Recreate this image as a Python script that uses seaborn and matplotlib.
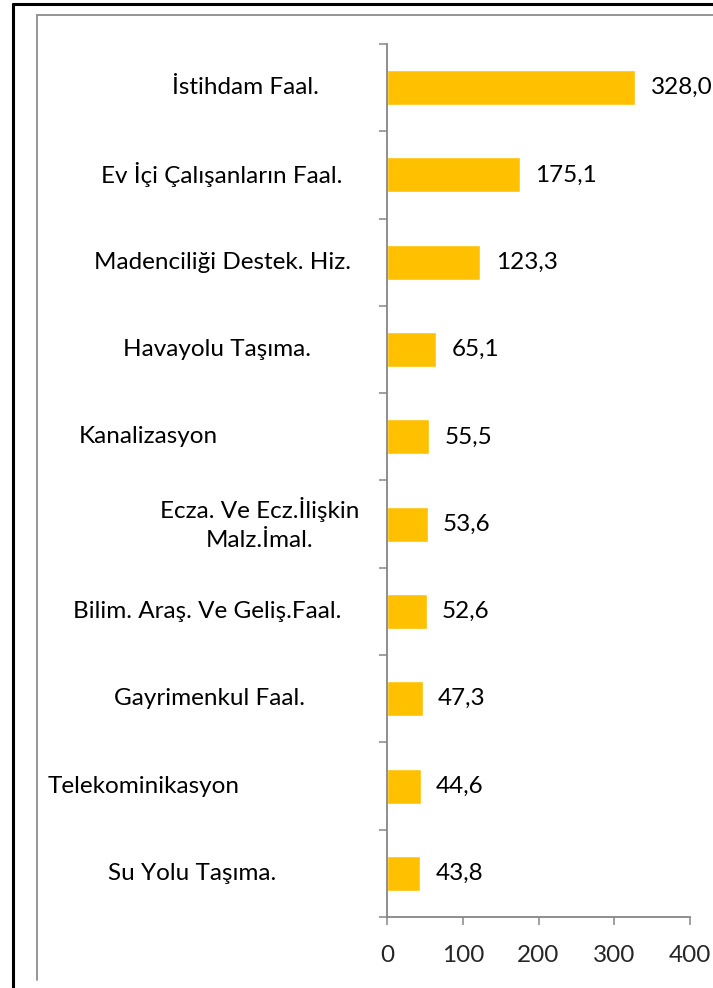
import matplotlib
matplotlib.use("Agg")
import matplotlib.pyplot as plt
import matplotlib.transforms as mtransforms
from matplotlib.lines import Line2D
import seaborn as sns

categories = [
    "İstihdam Faal.",
    "Ev İçi Çalışanların Faal.",
    "Madenciliği Destek. Hiz.",
    "Havayolu Taşıma.",
    "Kanalizasyon",
    "Ecza. Ve Ecz.İlişkin\nMalz.İmal.",
    "Bilim. Araş. Ve Geliş.Faal.",
    "Gayrimenkul Faal.",
    "Telekominikasyon",
    "Su Yolu Taşıma.",
]
values = [328.0, 175.1, 123.3, 65.1, 55.5, 53.6, 52.6, 47.3, 44.6, 43.8]
value_labels = ["328,0", "175,1", "123,3", "65,1", "55,5", "53,6", "52,6", "47,3", "44,6", "43,8"]
x_ticks = [0, 100, 200, 300, 400]

# category label centres (pixels from left), Excel lays them out unevenly
label_px = [245, 222, 222, 217, 148, 260, 207, 210, 144, 192]

W, H = 713, 988
sns.set_style("white")
plt.rcParams["font.family"] = ["Lato", "DejaVu Sans"]
fs = 17.5
axis_gray = "#868686"

fig = plt.figure(figsize=(W / 100, H / 100), dpi=100)
ax = fig.add_axes([387 / W, 1 - 917 / H, (690 - 387) / W, (917 - 44) / H])

sns.barplot(x=values, y=categories, orient="h", color="#FFC000",
            saturation=1, width=0.4, ax=ax)

ax.set_xlim(0, 400)
ax.set_ylim(len(categories) - 0.5, -0.5)
ax.set_xticks(x_ticks)
ax.set_xticklabels([str(t) for t in x_ticks], fontsize=fs)
ax.set_yticks([i - 0.5 for i in range(len(categories) + 1)])
ax.set_yticklabels([])
ax.set_xlabel("")
ax.set_ylabel("")
ax.tick_params(axis="x", bottom=True, direction="out", length=6, width=1.1, color=axis_gray, pad=14)
ax.tick_params(axis="y", left=True, direction="out", length=6, width=1.1, color=axis_gray)
for s in ["top", "right"]:
    ax.spines[s].set_visible(False)
for s in ["left", "bottom"]:
    ax.spines[s].set_color(axis_gray)
    ax.spines[s].set_linewidth(1.3)

ax.bar_label(ax.containers[0], labels=value_labels, padding=11, fontsize=fs, color="black")

trans = mtransforms.blended_transform_factory(fig.transFigure, ax.transData)
for i, (cat, px) in enumerate(zip(categories, label_px)):
    ax.text(px / W, i, cat, transform=trans, ha="center", va="center",
            multialignment="center", fontsize=fs, color="black", linespacing=1.5)

# outer frame (black) and chart area border (gray), cropped at right/bottom
fig.add_artist(Line2D([13 / W, 13 / W], [0, 1 - 4 / H], color="black", lw=2.2, transform=fig.transFigure))
fig.add_artist(Line2D([13 / W, 1], [1 - 4 / H, 1 - 4 / H], color="black", lw=2.2, transform=fig.transFigure))
fig.add_artist(Line2D([37 / W, 37 / W], [1 - 980 / H, 1 - 15 / H], color="#8c8c8c", lw=1.3, transform=fig.transFigure))
fig.add_artist(Line2D([37 / W, 1], [1 - 15 / H, 1 - 15 / H], color="#8c8c8c", lw=1.3, transform=fig.transFigure))

fig.savefig("out.png", dpi=100)
